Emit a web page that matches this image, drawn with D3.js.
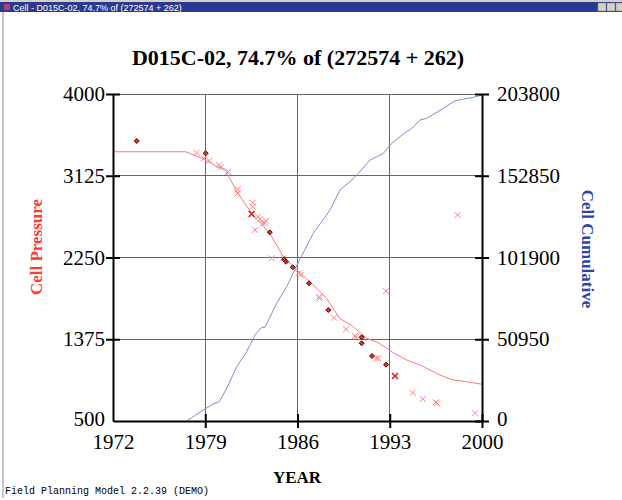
<!DOCTYPE html>
<html>
<head>
<meta charset="utf-8">
<script src="https://cdn.jsdelivr.net/npm/d3@7/dist/d3.min.js"></script>
<style>
  html, body { margin: 0; padding: 0; background: #fff; }
  svg { display: block; }
</style>
</head>
<body>
<svg id="chart" width="622" height="500"></svg>
<script>
// ---------- DATA ----------
const windowTitle = "Cell - D015C-02, 74.7% of (272574 + 262)";
const chartTitle = "D015C-02, 74.7% of (272574 + 262)";
const xTicks = [1972, 1979, 1986, 1993, 2000];
const pressureTicks = [500, 1375, 2250, 3125, 4000];
const cumTicks = [0, 50950, 101900, 152850, 203800];

const modelYears = [1972, 1977.5, 1978.35, 1979.0, 1980.0, 1980.5, 1981.39, 1982.52, 1983.9, 1984.92, 1985.7, 1986.24, 1987.2, 1988.2, 1989.2, 1990.23, 1991.25, 1992.13, 1993.27, 1994.28, 1995.3, 1996.8, 1997.82, 1998.84, 2000];
const modelPressure = [3382, 3382, 3336, 3294, 3215, 3194, 2955, 2723, 2509, 2259, 2152, 2081, 1956, 1813, 1599, 1509, 1385, 1338, 1231, 1153, 1100, 992, 939, 921, 893];

const cumYears = [1977.59, 1978.85, 1979.61, 1980.07, 1980.63, 1981.39, 1982.14, 1982.77, 1983.28, 1983.53, 1984.42, 1985.18, 1986.19, 1987.2, 1988.47, 1989.22, 1989.98, 1990.61, 1991.5, 1992.01, 1992.51, 1993.15, 1994.16, 1994.67, 1995.3, 1995.8, 1997.07, 1997.95, 1998.46, 1999.34, 2000];
const cumValues = [0, 6855, 10594, 12030, 20380, 33840, 43190, 53600, 58390, 58390, 73350, 83700, 101000, 117000, 131500, 143960, 149140, 154300, 162600, 164700, 166800, 173070, 179670, 182400, 187600, 188600, 194870, 199580, 200460, 201700, 203150];

const crossYears = [1978.35, 1978.9, 1979.3, 1980.07, 1980.17, 1980.75, 1981.46, 1981.46, 1982.6, 1982.6, 1983.0, 1983.15, 1983.36, 1983.53, 1983.6, 1982.77, 1984.04, 1984.92, 1986.06, 1986.24, 1987.66, 1987.66, 1988.77, 1989.68, 1990.36, 1990.44, 1991.96, 1992.13, 1992.72, 1994.74, 1995.5, 1996.48, 1996.6, 1998.15, 1999.47];
const crossPressure = [3372, 3310, 3286, 3240, 3215, 3168, 2980, 2937, 2837, 2794, 2687, 2659, 2616, 2622, 2644, 2544, 2241, 2241, 2081, 2063, 1831, 1813, 1606, 1482, 1410, 1396, 1171, 1171, 1891, 803, 736, 700, 690, 2705, 582];

const boldCrossYears = [1982.52, 1993.4];
const boldCrossPressure = [2716, 982];

const diamondYears = [1973.8, 1979.03, 1983.9, 1984.98, 1985.13, 1985.64, 1986.87, 1988.34, 1990.87, 1990.87, 1991.65, 1992.72];
const diamondPressure = [3497, 3365, 2520, 2231, 2205, 2145, 1974, 1688, 1396, 1332, 1196, 1103];

// ---------- LAYOUT ----------
const svg = d3.select("#chart");
const L = 113, R = 482, T = 94, B = 421;
const serif = "'Liberation Serif', 'Times New Roman', serif";

const x = d3.scaleLinear().domain([1972, 2000]).range([L, R]);
const yP = d3.scaleLinear().domain([500, 4000]).range([B, T]);
const yC = d3.scaleLinear().domain([0, 203800]).range([B, T]);

// Window frame
svg.append("rect").attr("x", 0).attr("y", 0).attr("width", 622).attr("height", 500).attr("fill", "#fff");
svg.append("rect").attr("x", 0).attr("y", 0).attr("width", 622).attr("height", 2).attr("fill", "#d4d0c8");
svg.append("rect").attr("x", 0).attr("y", 2).attr("width", 622).attr("height", 10).attr("fill", "#2b3a8e");
svg.append("rect").attr("x", 2).attr("y", 12).attr("width", 2).attr("height", 486).attr("fill", "#c0c4c8");
svg.append("rect").attr("x", 4).attr("y", 4).attr("width", 6).attr("height", 6).attr("fill", "#b04070");
svg.append("text").attr("x", 13).attr("y", 10.5).attr("fill", "#fff")
  .attr("font-family", "'Liberation Sans', Arial, sans-serif").attr("font-size", 9)
  .text(windowTitle);
[598, 607, 616].forEach((bx) => {
  svg.append("rect").attr("x", bx).attr("y", 3).attr("width", 8).attr("height", 8)
    .attr("fill", "#d4d0c8").attr("stroke", "#808080").attr("stroke-width", 0.5);
});

// Gridlines
const grid = svg.append("g");
xTicks.slice(1, -1).forEach(v => {
  grid.append("line").attr("x1", x(v)).attr("x2", x(v)).attr("y1", T).attr("y2", B)
    .attr("stroke", "#666").attr("stroke-width", 1).attr("shape-rendering", "crispEdges");
});
pressureTicks.slice(1).forEach(v => {
  grid.append("line").attr("x1", L).attr("x2", R).attr("y1", yP(v)).attr("y2", yP(v))
    .attr("stroke", "#666").attr("stroke-width", 1).attr("shape-rendering", "crispEdges");
});

// Data lines
const modelData = modelYears.map((d, i) => [d, modelPressure[i]]);
svg.append("path").datum(modelData)
  .attr("d", d3.line().x(d => x(d[0])).y(d => yP(d[1])))
  .attr("fill", "none").attr("stroke", "#ff7a7a").attr("stroke-width", 1);

const cumData = cumYears.map((d, i) => [d, cumValues[i]]);
svg.append("path").datum(cumData)
  .attr("d", d3.line().x(d => x(d[0])).y(d => yC(d[1])))
  .attr("fill", "none").attr("stroke", "#7d8ed2").attr("stroke-width", 1);

// Cross markers
function crosses(ys, ps, color, w) {
  const g = svg.append("g");
  ys.forEach((yr, i) => {
    const cx = x(yr), cy = yP(ps[i]), s = 3;
    g.append("path").attr("d", `M${cx - s},${cy - s}L${cx + s},${cy + s}M${cx - s},${cy + s}L${cx + s},${cy - s}`)
      .attr("stroke", color).attr("stroke-width", w).attr("fill", "none");
  });
}
crosses(crossYears, crossPressure, "#ff8080", 1);
crosses(boldCrossYears, boldCrossPressure, "#d82020", 1.6);

// Diamond markers
const diamond = d3.symbol().type(d3.symbolDiamond2).size(16);
svg.append("g").selectAll("path").data(diamondYears.map((d, i) => [d, diamondPressure[i]]))
  .join("path")
  .attr("transform", d => `translate(${x(d[0])},${yP(d[1])})`)
  .attr("d", diamond)
  .attr("fill", "#e3301f").attr("stroke", "#4a0800").attr("stroke-width", 1);

// Axes
function styleAxis(g) {
  g.select(".domain").attr("stroke", "#000").attr("stroke-width", 2);
  g.selectAll(".tick line").attr("stroke", "#000").attr("stroke-width", 2);
  g.selectAll(".tick text").attr("font-family", serif).attr("font-size", 21).attr("fill", "#000");
}

const axL = svg.append("g").attr("transform", `translate(${L},0)`)
  .call(d3.axisLeft(yP).tickValues(pressureTicks).tickFormat(d3.format("d")).tickSize(7).tickSizeOuter(0).tickPadding(1));
styleAxis(axL);
axL.selectAll(".tick line").attr("x2", 7).attr("x1", -7);
axL.selectAll(".tick").filter(d => d === 500).select("line").remove();

const axR = svg.append("g").attr("transform", `translate(${R},0)`)
  .call(d3.axisRight(yC).tickValues(cumTicks).tickFormat(d3.format("d")).tickSize(7).tickSizeOuter(0).tickPadding(8));
styleAxis(axR);
axR.selectAll(".tick line").attr("x1", -7).attr("x2", 7);
axR.selectAll(".tick").filter(d => d === 0).select("text").attr("dy", "0.22em");
axL.selectAll(".tick").filter(d => d === 500).select("text").attr("dy", "0.22em");

const axB = svg.append("g").attr("transform", `translate(0,${B})`)
  .call(d3.axisBottom(x).tickValues(xTicks).tickFormat(d3.format("d")).tickSize(7).tickSizeOuter(0).tickPadding(6));
styleAxis(axB);
axB.selectAll(".tick line").attr("y1", -7).attr("y2", 7);
axB.selectAll(".tick").filter(d => d === 1972).select("line").remove();

// Titles
svg.append("text").attr("x", 298).attr("y", 65).attr("text-anchor", "middle")
  .attr("font-family", serif).attr("font-weight", "bold").attr("font-size", 22).text(chartTitle);
svg.append("text").attr("x", 297).attr("y", 483).attr("text-anchor", "middle")
  .attr("font-family", serif).attr("font-weight", "bold").attr("font-size", 17).text("YEAR");
svg.append("text").attr("transform", "translate(42,247) rotate(-90)").attr("text-anchor", "middle")
  .attr("font-family", serif).attr("font-weight", "bold").attr("font-size", 17).attr("fill", "#ff3a30").text("Cell Pressure");
svg.append("text").attr("transform", "translate(582,249) rotate(90)").attr("text-anchor", "middle")
  .attr("font-family", serif).attr("font-weight", "bold").attr("font-size", 17).attr("fill", "#2c46a8").text("Cell Cumulative");
svg.append("text").attr("x", 5).attr("y", 494)
  .attr("font-family", "'Liberation Mono', 'Courier New', monospace").attr("font-size", 10).text("Field Planning Model 2.2.39 (DEMO)");
</script>
</body>
</html>
